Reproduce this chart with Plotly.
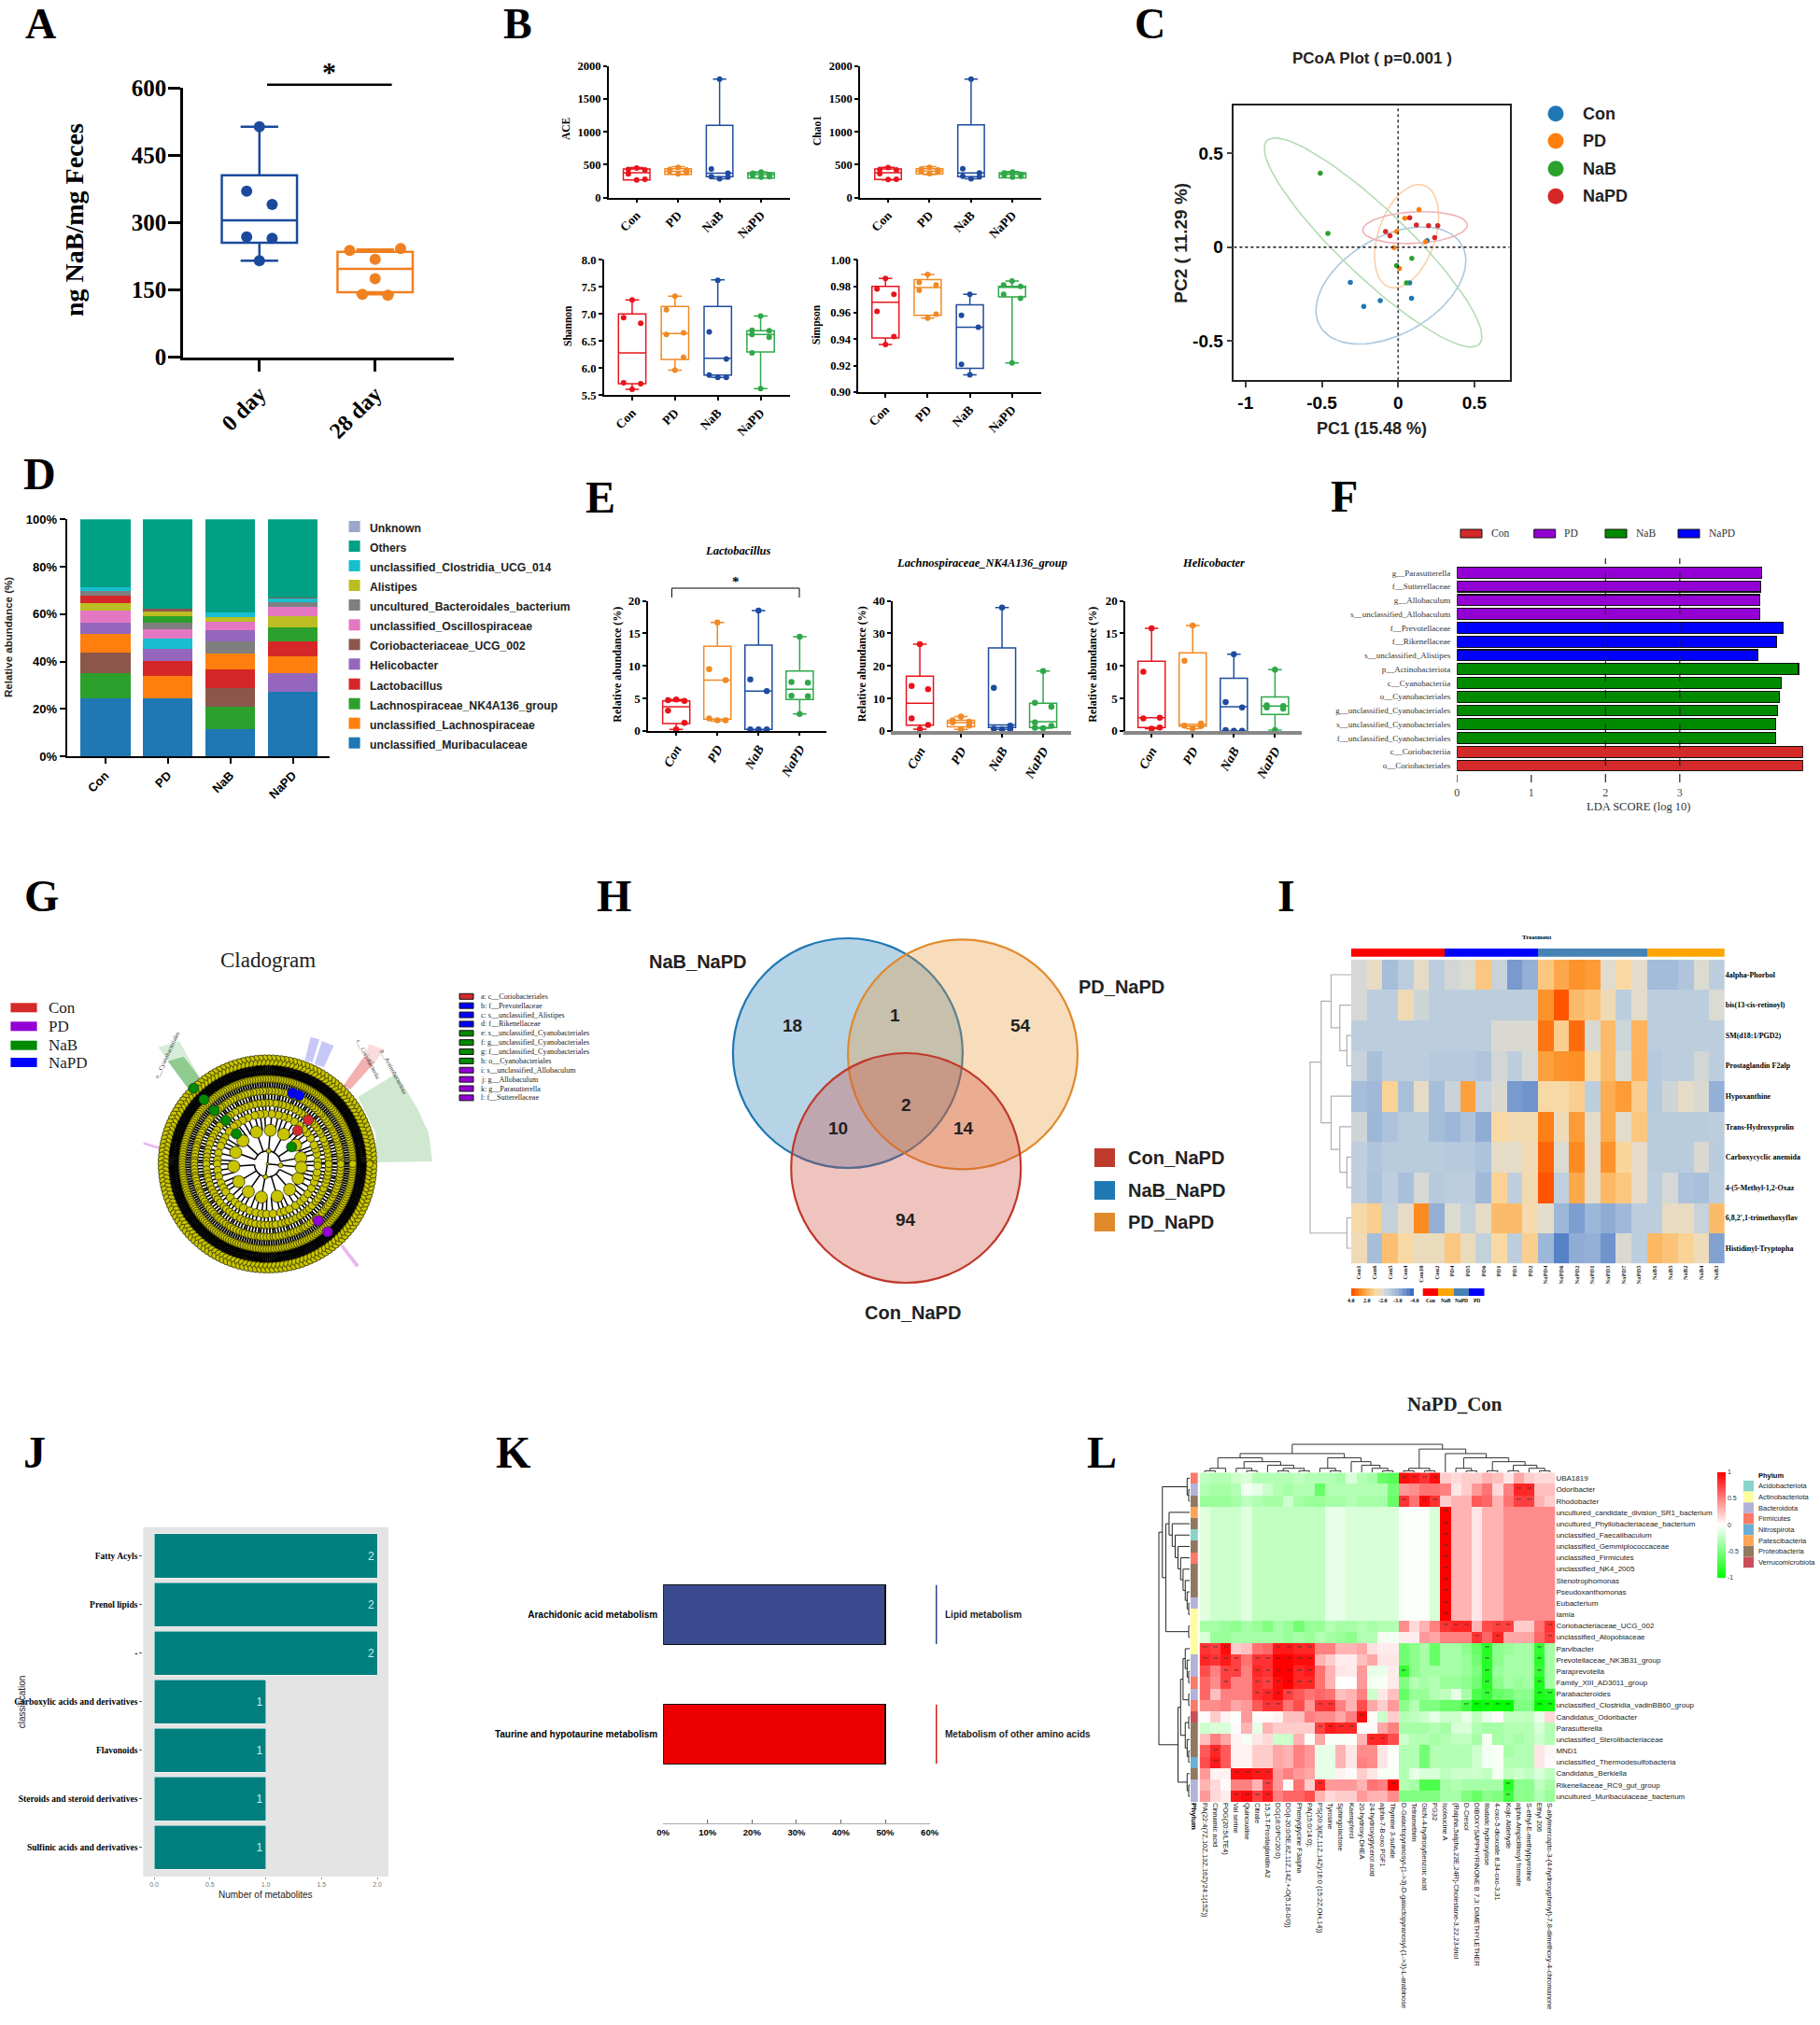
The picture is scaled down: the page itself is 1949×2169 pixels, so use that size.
import numpy as np
import plotly.graph_objects as go

W, H = 1949, 2169
BODY = 0
SERIF = "Liberation Serif"
SANS = "Liberation Sans"

# ---------------- data ----------------
A_cats = ["0 day", "28 day"]
A_boxes = [(215, 255, 305, 405, 513, [513, 370, 340, 268, 265, 215]),
           (140, 145, 197, 235, 240, [242, 238, 218, 175, 140, 138])]
A_jitter = [[0, -.11, .11, -.11, .11, 0], [.22, -.22, 0, 0, -.11, .11]]

GROUPS = ["Con", "PD", "NaB", "NaPD"]
B_ACE = [(270, 270, 378, 435, 455, [450, 430, 420, 360, 280, 270]),
         (350, 355, 400, 440, 470, [460, 430, 420, 400, 380, 360]),
         (285, 317, 370, 1100, 1800, [1800, 435, 370, 320, 310, 285]),
         (300, 298, 350, 378, 390, [390, 370, 350, 340, 320, 310])]
B_CHAO = [(270, 275, 380, 435, 460, [455, 430, 420, 365, 280, 275]),
          (350, 360, 405, 440, 470, [460, 435, 420, 400, 385, 365]),
          (285, 320, 375, 1105, 1800, [1800, 440, 375, 325, 315, 285]),
          (305, 300, 355, 380, 395, [390, 375, 355, 345, 325, 312])]
B_SHANNON = [(5.61, 5.71, 6.28, 7.0, 7.26, [7.26, 6.93, 6.83, 5.73, 5.71, 5.61]),
             (5.96, 6.16, 6.64, 7.14, 7.33, [7.33, 7.08, 6.65, 6.62, 6.2, 5.96]),
             (5.83, 5.87, 6.18, 7.14, 7.63, [7.62, 6.67, 6.17, 5.87, 5.83, 5.83]),
             (5.62, 6.3, 6.62, 6.69, 6.96, [6.96, 6.7, 6.69, 6.62, 6.57, 6.28, 5.62])]
B_SIMPSON = [(.936, .941, .968, .98, .986, [.986, .978, .974, .961, .942, .936]),
             (.956, .958, .979, .985, .989, [.989, .983, .981, .977, .959, .956]),
             (.913, .918, .949, .966, .974, [.974, .958, .949, .921, .913]),
             (.922, .972, .98, .98, .984, [.984, .981, .98, .974, .971, .922])]

C_names = ["Con", "PD", "NaB", "NaPD"]
C_colors = ["#1f77b4", "#ff7f0e", "#2ca02c", "#d62728"]
C_pale = ["#a9c8e0", "#fbcfa6", "#b4dcb4", "#f0b3b8"]
C_x = [[-.313, -.225, -.117, .088, .076, .19], [.137, .044, -.01, .18, -.026, .009],
       [-.51, -.46, .09, -.01, .055], [.076, .12, .2, .26, -.082, -.053, .24]]
C_y = [[-.187, -.315, -.285, -.272, -.19, .035], [.2, .154, .083, .028, -.003, -.113],
       [.393, .073, -.06, -.098, -.19], [.156, .118, .114, .114, .083, .061, .051]]
# ellipse: centre x, centre y, conjugate radius u (x,y), conjugate radius v (x,y)
C_ellipses = [(-.047, -.204, .395, .274, .292, -.148), (.056, .058, .096, .274, .187, -.022),
              (-.164, .025, .68, -.55, .215, .08), (.111, .104, .342, .017, .015, -.083)]

D_names = ["Unknown", "Others", "unclassified_Clostridia_UCG_014", "Alistipes",
           "uncultured_Bacteroidales_bacterium", "unclassified_Oscillospiraceae",
           "Coriobacteriaceae_UCG_002", "Helicobacter", "Lactobacillus",
           "Lachnospiraceae_NK4A136_group", "unclassified_Lachnospiraceae", "unclassified_Muribaculaceae"]
D_colors = ["#9aa7c7", "#00a085", "#17becf", "#bcbd22", "#7f7f7f", "#e377c2",
            "#8c564b", "#9467bd", "#d62728", "#2ca02c", "#ff7f0e", "#1f77b4"]
D_con_order = [11, 9, 6, 10, 7, 5, 3, 8, 4, 2, 1]
D_con_vals = [24.6, 10.5, 8.8, 7.7, 4.8, 5.2, 3.1, 3.2, 2.0, 1.5, 28.6]
D_pd_order = [11, 10, 8, 7, 2, 5, 4, 9, 3, 6, 1]
D_pd_vals = [24.6, 9.4, 6.3, 5.2, 4.3, 3.9, 2.7, 2.6, 2.0, 1.2, 37.8]
D_nab_order = [11, 9, 6, 8, 10, 4, 7, 5, 3, 2, 1]
D_nab_vals = [11.4, 9.5, 7.9, 7.7, 7.0, 4.9, 4.8, 3.4, 2.1, 1.9, 39.4]
D_napd_order = [11, 7, 10, 8, 9, 3, 5, 4, 2, 6, 1]
D_napd_vals = [27.3, 7.7, 7.3, 6.1, 6.0, 4.6, 4.2, 2.0, 1.6, 0.4, 32.8]

E_lacto = [(.2, 1.1, 3.7, 4.6, 4.8, [4.8, 4.7, 4.6, 3.1, 1.2, .2]),
           (1.5, 1.8, 7.8, 13, 16.7, [16.7, 9.5, 7.8, 1.9, 1.6, 1.6]),
           (.1, .2, 6.1, 13.2, 18.5, [18.5, 7.9, 6.1, .2, .2, .2]),
           (2.6, 4.8, 6.4, 9.2, 14.5, [14.5, 7.5, 7.4, 5.4, 5.3, 2.6])]
E_lachno = [(.5, 1.7, 8.5, 16.8, 26.7, [26.7, 13.8, 12.8, 3.8, 1.8, .5]),
            (.4, 1.2, 2.5, 3.2, 4.4, [4.4, 3.2, 2.8, 2.6, 1.6, .4]),
            (.4, 1, 1.8, 25.5, 38, [38, 13.2, 1.6, .6, .5, .4]),
            (.8, 1, 2.8, 8.5, 18.4, [18.4, 8.6, 7.4, 2.6, 1.5, .9, .8])]
E_helico = [(.3, .5, 2, 10.7, 15.8, [15.8, 9.1, 2, 1.9, .5, .3]),
            (.3, .7, 1, 12, 16.2, [16.2, 10.8, 1.1, .8, .7, .4]),
            (0, 0, 3.7, 8.1, 11.8, [11.8, 4.4, 3.6, .1, 0, 0]),
            (.1, 2.5, 3.8, 5.2, 9.4, [9.4, 3.9, 3.8, 3.6, 3.4, .1])]

F_labels = ["g__Parasutterella", "f__Sutterellaceae", "g__Allobaculum", "s__unclassified_Allobaculum",
            "f__Prevotellaceae", "f__Rikenellaceae", "s__unclassified_Alistipes", "p__Actinobacteriota",
            "c__Cyanobacteriia", "o__Cyanobacteriales", "g__unclassified_Cyanobacteriales",
            "s__unclassified_Cyanobacteriales", "f__unclassified_Cyanobacteriales",
            "c__Coriobacteriia", "o__Coriobacteriales"]
F_values = [4.10, 4.095, 4.08, 4.08, 4.39, 4.30, 4.05, 4.60, 4.37, 4.34, 4.32, 4.29, 4.29, 4.66, 4.66]
F_group = ["PD"] * 4 + ["NaPD"] * 3 + ["NaB"] * 6 + ["Con"] * 2
LEFSE = {"Con": "#d42a2a", "PD": "#9400d3", "NaB": "#008a00", "NaPD": "#0000ff"}

G_branching = [[1, 2, 1, 2], [1, 2, 1, 1, 2], [1, 2, 2, 1, 2], [2, 2, 1, 2], [3, 4, 4], [7, 7]]
G_leaves = 310
G_radii = [.97, .78, .67, .56, .46, .31, .12, 0]
G_sizes = [7.5, 8, 8, 8, 8.5, 13, 5, 3]
G_edge_widths = [2.4, 1.9, 1.8, 1.6, 1.5, 1.5, 1.5]
G_legend = ["a: c__Coriobacteriales", "b: f__Prevotellaceae", "c: s__unclassified_Alistipes",
            "d: f__Rikenellaceae", "e: s__unclassified_Cyanobacteriales", "f: g__unclassified_Cyanobacteriales",
            "g: f__unclassified_Cyanobacteriales", "h: o__Cyanobacteriales", "i: s__unclassified_Allobaculum",
            "j: g__Allobaculum", "k: g__Parasutterella", "l: f__Sutterellaceae"]
G_legend_group = ["Con"] + ["NaPD"] * 3 + ["NaB"] * 4 + ["PD"] * 4
G_nodes = {"NaB": ([-.676, -.582, -.488, -.383, -.286, .22], [.694, .591, .491, .4, .277, .157]),
           "NaPD": ([.23, .289], [.649, .629]),
           "Con": ([.373, .275], [.403, .306]),
           "PD": ([.463, .55], [-.52, -.623])}
G_patches = [("#cfe8cf", [1.509, 1.474, 1.369, 1.178, .829, .986, 1.003], [.023, .286, .514, .829, .614, .286, .014]),
             ("#d6ecd6", [-1.0, -.808, -.617, -.721], [1.071, 1.129, .786, .686]),
             ("#8fcb8f", [-.913, -.767, -.617, -.721], [.943, .986, .786, .686]),
             ("#c8c8f8", [.341, .394, .474, .411], [.949, 1.166, 1.143, .931]),
             ("#c8c8f8", [.429, .498, .606, .516], [.914, 1.129, 1.086, .886]),
             ("#f3b0b0", [.69, .882, .986, .76], [.714, .986, .937, .686]),
             ("#fadcdc", [.882, .93, 1.07, .986], [.986, 1.1, 1.05, .937]),
             ("#e8b8f0", [-1.14, -1.13, -.81, -.82], [.18, .2, .1, .08]),
             ("#e8b8f0", [.67, .69, .84, .81], [-.76, -.74, -.93, -.95])]

H_sets = ["NaB_NaPD", "PD_NaPD", "Con_NaPD"]
H_counts = [18, 1, 54, 2, 10, 14, 94]

I_rows = ["4alpha-Phorbol", "bis(13-cis-retinoyl)", "SM(d18:1/PGD2)", "Prostaglandin F2alp", "Hypoxanthine",
          "Trans-Hydroxyprolin", "Carboxycyclic anemida", "4-(5-Methyl-1,2-Oxaz", "6,8,2',1-trimethoxyflav",
          "Histidinyl-Tryptopha"]
I_cols = ["Con1", "Con6", "Con5", "Con4", "Con10", "Con2", "PD4", "PD5", "PD6", "PD1", "PD3", "PD2",
          "NaPD4", "NaPD6", "NaPD2", "NaPD1", "NaPD3", "NaPD7", "NaPD5", "NaB1", "NaB5", "NaB2", "NaB4", "NaB3"]
I_groups = [0] * 6 + [1] * 6 + [2] * 7 + [3] * 5
I_z = [
 [-.3, .3, -1.7, -1, .2, -1, -.4, -.1, 1.5, -.7, -2.8, -2.2, 1.5, 2.3, 2.8, 2.6, 0, 1, .1, -1.8, -1.8, -1.4, -.1, -1],
 [-.3, -1, -1, .6, -.5, -1, -1, -1, -1, -1, -1, -1, 2.8, 4, 1.8, 1.6, .6, -1, .1, -1, -1, -1, -1, -.1],
 [-1, -1, -1, -1, -1, -1, -1, -1, -1, -.2, -.2, -.2, 3.4, 1.3, 3.6, -.2, 1.8, -.5, 2, -1, -1, -1, -1, -1],
 [-.7, -1.6, -1, -1, -1, -1.2, -1.2, -1.2, -1.4, -.4, -1, -.3, 2.5, 2.8, 2.9, .9, 1.8, -.1, 2, -1.2, -1, -1, -.4, -1],
 [-1.7, -1.9, 1.2, -1.6, .2, -1.7, -.6, 2.5, -.7, -.2, -2.8, -3, .9, .9, 1.3, -1, 2.2, 2.6, 1.3, -1.2, -.5, .2, -.2, -2.2],
 [-.5, -2, -1.5, -1.1, -1.1, -1.7, -2, -1.5, -2.3, 1, .7, .7, 3.2, .5, 2.6, .1, 2.2, .1, 1.5, -1.1, -1.1, -1.1, -1.1, -1],
 [-.9, -1.4, -1.1, -1.1, -1.1, -1.1, -1.2, -1.2, -1.5, .2, .1, .6, 3.7, -.1, 3, .2, 2.8, 1.1, .2, -1.1, -1.1, -1.1, -.2, -1.1],
 [-.9, -1.5, -.9, -1.6, -.3, -1.2, -1, -1, -1.9, 1.2, -.9, .7, 4, -.9, 2.3, .2, 1.9, 1.5, .2, -1, -.3, -1.5, -1.6, -1],
 [.9, 1.3, -.8, .2, 3, -2.2, -.1, -.8, .2, 1.8, 1.8, .8, .1, -2, -2.7, -2, -2.3, -1.9, -1, -1, .3, .3, -.7, 1.8],
 [.6, -1.7, 1.7, 1, .4, .4, 1.5, .4, -.8, 1, -1, 1.3, -2, -3.5, -2.3, -2.2, -3, -.2, -1, 1.9, 1.6, 1.2, .5, -2.6],
]
I_legend_vals = [4, 3.5, 3, 2.5, 2, 1.5, 1, .5, 0, -.5, -1, -1.5, -2, -2.5, -3, -3.5, -4]
I_tree = (((0, (1, (2, 3))), (4, (5, (6, 7)))), (8, 9))

J_labels = ["Fatty Acyls", "Prenol lipids", "-", "Carboxylic acids and derivatives", "Flavonoids",
            "Steroids and steroid derivatives", "Sulfinic acids and derivatives"]
J_values = [2, 2, 2, 1, 1, 1, 1]

K_labels = ["Arachidonic acid metabolism", "Taurine and hypotaurine metabolism"]
K_values = [50, 50]
K_classes = ["Lipid metabolism", "Metabolism of other amino acids"]

L_rows = ["UBA1819", "Odoribacter", "Rhodobacter", "uncultured_candidate_division_SR1_bacterium",
          "uncultured_Phyllobacteriaceae_bacterium", "unclassified_Faecalibaculum", "unclassified_Gemmiplococcaceae",
          "unclassified_Firmicutes", "unclassified_NK4_2005", "Stenotrophomonas", "Pseudoxanthomonas", "Eubacterium",
          "Iamia", "Coriobacteriaceae_UCG_002", "unclassified_Atopobiaceae", "Parvibacter",
          "Prevotellaceae_NK3B31_group", "Paraprevotella", "Family_XIII_AD3011_group", "Parabacteroides",
          "unclassified_Clostridia_vadinBB60_group", "Candidatus_Odoribacter", "Parasutterella",
          "unclassified_Sterolibacteriaceae", "MND1", "unclassified_Thermodesulfobacteria", "Candidatus_Berkiella",
          "Rikenellaceae_RC9_gut_group", "uncultured_Muribaculaceae_bacterium"]
L_cols = ["PA(22:4(7Z,10Z,13Z,16Z)/24:1(15Z))", "Cinnamic acid", "POG(20:5/LTE4)", "Val serine", "Quinoxaline",
          "Citrate", "15,3-T-Prostaglandin A2", "DG(18:0/PC/20:0)", "DG(i-20:0/5E,8Z,11Z,14Z,+-O(5,18-0/0))",
          "Phenylglycine F3alpha", "PA(15:0/14:0);", "PS(20:3(8Z,11Z,14Z)/16:0 (15:2Z,OH,14))", "Tyrosine",
          "Sphingolactone", "Kaempferol", "20-hydroxy-DHEA", "24-hydroxyglycerol acid", "alpha-7-B-oxo PGF1",
          "Thymine 3-sulfate", "D-Galactopyranosyl-(1->3)-D-galactopyranosyl-(1->3)-L-arabinose", "Tetramethrin",
          "GlcN-4-hydroxybenzoic acid", "PG32", "Isoleucine A", "(Ralpha,5alpha,22E,24R)-Cholestane-3,22,23-triol",
          "D-Cresol", "DIBOXYSAPPHYRINONE B 7,3: DIMETHYLETHER", "Illudalic hydroxylase",
          "4-oxo-5-dioxoate 8,34-oxo-3,31", "Kojic Aldehyde", "alpha-Ampicillinoyl formate",
          "S-ethyl-E-methylpyrroline", "Ethyl 206",
          "S-allylmercapto-3-(4-hydroxyphenyl)-7,8-dimethoxy-4-chromanone"]
L_flat = [-.12, -.2, -.2, -.2, -.12, -.25, -.25, -.25, -.25, -.25, -.25, -.25, -.1, -.1, -.15, -.15, -.15, -.15, -.15,
          -.02, -.02, -.02, -.15, 1, .3, .3, .1, .3, .3, .45, .45, .45, .45, .45]
L_z = [
 [-.25, -.3, -.3, -.2, -.15, -.3, -.3, -.3, -.3, -.25, -.3, -.3, -.3, -.35, -.15, -.3, -.35, -.6, -.65,
  .95, .9, .8, .95, .2, .15, .2, .2, .3, .25, .1, .35, .2, .15, .15],
 [-.3, -.35, -.35, -.3, -.05, -.1, -.2, -.3, -.35, -.3, -.3, -.6, -.3, -.3, -.3, -.3, -.3, -.3, -.55,
  .4, .45, .55, .55, .5, .1, .2, .4, .55, .15, .5, .85, .85, .25, .25],
 [-.4, -.4, -.4, -.35, -.25, -.3, -.35, -.35, -.2, -.35, -.4, -.4, -.35, -.35, -.3, -.35, -.35, -.35, -.6,
  .8, .55, .95, .8, .2, .3, .3, .65, .6, .3, .55, .75, .75, .3, .2],
 L_flat, L_flat, L_flat, L_flat, L_flat, L_flat, L_flat, L_flat, L_flat, L_flat,
 [-.35, -.35, -.4, -.45, -.35, -.4, -.5, -.35, -.4, -.55, -.4, -.4, -.3, -.35, -.35, -.3, -.35, -.3, -.3,
  .45, .15, .3, .5, .8, .85, .85, .3, .7, .75, .75, .2, .2, .55, .8],
 [-.15, -.4, -.4, -.35, -.35, -.35, -.35, -.35, -.4, -.35, -.4, -.3, -.35, -.4, -.45, -.3, -.3, -.05, -.05,
  .07, .07, .4, .35, .5, .5, .5, .8, .6, .85, .35, .35, .35, .6, .75],
 [.8, .75, .95, .2, .25, .55, .6, .9, .9, .85, .85, .5, .5, .3, .3, .35, .12, .08, .08,
  -.55, -.45, -.35, -.6, -.35, -.35, -.45, -.6, -.85, -.45, -.4, -.35, -.35, -.8, -.35],
 [.85, .8, .9, .75, .55, .8, .8, 1, 1, .95, .95, .3, .2, .08, .08, .25, .35, .1, .1,
  -.55, -.45, -.35, -.6, -.35, -.35, -.4, -.55, -.85, -.45, -.35, -.35, -.35, -.85, -.35],
 [.7, .5, .75, .75, .5, .85, .8, 1, 1, .85, .9, .55, .3, .1, .08, .4, -.1, -.08, .08,
  -.8, -.45, -.35, -.35, -.35, -.35, -.4, -.5, -.85, -.4, -.35, -.35, -.35, -.8, -.35],
 [.6, .45, .75, .5, .5, .8, .75, .95, 1, .85, .85, .55, .3, 0, 0, .4, -.05, -.03, .08,
  -.5, -.3, -.35, -.3, -.4, -.4, -.45, -.55, -.85, -.45, -.35, -.4, -.35, -.9, -.35],
 [.6, .25, .5, .5, .5, .8, .85, .95, .75, .65, .55, .6, .55, .25, .3, .5, -.2, .1, .25,
  -.6, -.4, -.4, -.3, -.25, -.1, -.35, -.7, -.8, -.6, -.55, -.45, -.45, -.9, -.85],
 [.45, .45, .5, .35, .4, .65, .8, .8, .55, .7, .4, .8, .8, .5, .3, .7, .35, .2, .4,
  -.45, -.3, -.5, -.5, -.6, -.6, -.75, -1, -.95, -1, -1, -.5, -.5, -1, -.95],
 [.02, .2, .05, -.02, .4, .02, .02, .05, .25, .25, .5, .45, .45, .35, .5, .95, .02, -.2, .2,
  -.3, -.25, -.2, -.1, -.2, -.2, -.1, -.25, -.1, .02, -.25, -.25, -.25, -.1, .15],
 [-.2, -.15, -.15, .02, .3, -.1, .3, .2, .2, .2, .2, .75, .9, .85, .85, .02, .02, .35, .5,
  -.35, -.35, -.35, -.3, -.35, -.15, -.15, -.3, -.35, -.35, -.3, -.3, -.3, -.15, -.3],
 [.25, .5, .35, .05, -.05, .1, .15, -.2, -.2, .3, -.02, .35, -.02, -.03, -.02, .3, .85, .85, .7,
  -.2, -.3, -.3, -.35, -.3, -.25, -.25, -.35, -.05, -.35, -.3, -.35, -.3, -.2, -.3],
 [.65, .85, .65, .05, .05, .2, .2, .35, .3, .5, .4, -.1, -.1, .3, .1, .45, .45, .1, -.02,
  -.3, -.3, -.55, -.3, -.3, -.3, -.3, -.2, -.05, -.03, -.35, -.3, -.3, .1, .03],
 [.7, .9, .65, .05, .05, .2, .2, .35, .3, .5, .4, -.1, -.1, .3, .1, .5, .45, .1, -.02,
  -.3, -.3, -.55, -.3, -.3, -.3, -.3, -.2, -.05, -.03, -.3, -.3, -.3, .1, .02],
 [.4, .05, .05, .95, .95, .9, .9, .4, .5, .4, .35, -.1, -.1, .05, .02, .2, .1, -.03, -.03,
  -.3, -.1, -.15, -.15, -.25, -.2, -.2, -.2, -.25, -.05, -.25, -.2, -.25, -.15, -.25],
 [.3, .15, .02, .5, .5, .3, .75, .4, .02, .55, .2, .85, .4, .4, .4, .3, .55, .5, 1,
  -.3, -.35, -.7, -.7, -.35, -.3, -.35, -.35, -.35, -.35, -.85, -.45, -.45, -.25, -.35],
 [.4, .15, .08, .9, .95, .75, .9, .5, .6, .6, .7, .3, .15, .2, .2, .4, .3, .3, .45,
  -.5, -.5, -.5, -.5, -.35, -.35, -.5, -.6, -.45, -.5, -.75, -.45, -.45, -.3, -.4],
]
L_phyla = ["Acidobacteriota", "Actinobacteriota", "Bacteroidota", "Firmicutes", "Nitrospirota",
           "Patescibacteria", "Proteobacteria", "Verrucomicrobiota"]
L_phyla_colors = ["#88d4c8", "#fdfd9e", "#b3b3d9", "#fc7a68", "#6baed6", "#fda555", "#8f7a5f", "#c9505a"]
L_phylum_codes = [3, 2, 6, 5, 6, 0, 6, 3, 6, 6, 6, 2, 1, 1, 1, 1, 2, 2, 3, 2, 3, 7, 6, 6, 6, 4, 6, 2, 2]
L_row_tree = ((((0, (1, 2)), ((3, (4, (5, (6, (7, (8, (9, (10, (11, 12))))))))), (13, 14))),
               ((((15, (16, (17, 18))), (19, 20)), ((21, 22), (23, (24, 25)))), (26, (27, 28)))))
L_col_tree = (((((0, 1), 2), ((3, (4, 5)), (6, ((7, 8), (9, 10))))), ((11, (12, 13)), (14, (15, (16, (17, 18)))))),
              (((19, 20), (21, 22)), (23, ((24, (25, 26)), ((27, 28), ((29, 30), (31, (32, 33))))))))

# ---------------- helpers ----------------
fig = go.Figure()
layout = {}
shapes = []
annos = []
_n = [1]


def PX(x):
    return (x - BODY) / (W - 2 * BODY)


def PY(y):
    return 1 - (y - BODY) / (H - 2 * BODY)


def axes(x0, x1, y0, y1, xcfg, ycfg):
    _n[0] += 1
    n = _n[0]
    layout[f"xaxis{n}"] = dict(domain=[PX(x0), PX(x1)], anchor=f"y{n}", showgrid=False, zeroline=False, **xcfg)
    layout[f"yaxis{n}"] = dict(domain=[PY(y1), PY(y0)], anchor=f"x{n}", showgrid=False, zeroline=False, **ycfg)
    return f"x{n}", f"y{n}"


def T(x, y, s, size, family=SERIF, bold=False, italic=False, color="#000000", angle=0, anchor="center"):
    f = dict(family=family, size=size, color=color)
    if bold:
        f["weight"] = 700
    if italic:
        f["style"] = "italic"
    annos.append(dict(x=PX(x), y=PY(y), xref="paper", yref="paper", text=s, showarrow=False, font=f,
                      textangle=angle, xanchor=anchor, yanchor="middle"))


def rect(x0, y0, x1, y1, fill, line=None, lw=0, layer="above"):
    shapes.append(dict(type="rect", xref="paper", yref="paper", x0=PX(x0), x1=PX(x1), y0=PY(y0), y1=PY(y1),
                       fillcolor=fill, line=dict(color=line or fill, width=lw), layer=layer))


def seg(x0, y0, x1, y1, color="#000000", lw=1.5):
    shapes.append(dict(type="line", xref="paper", yref="paper", x0=PX(x0), x1=PX(x1), y0=PY(y0), y1=PY(y1),
                       line=dict(color=color, width=lw), layer="above"))


def circ(cx, cy, r, fill, line=None, lw=0):
    shapes.append(dict(type="circle", xref="paper", yref="paper", x0=PX(cx - r), x1=PX(cx + r), y0=PY(cy - r), y1=PY(cy + r),
                       fillcolor=fill, line=dict(color=line or fill, width=lw), layer="above"))


def tfont(size, family=SERIF, bold=True, color="#000000", italic=False):
    f = dict(family=family, size=size, color=color)
    if bold:
        f["weight"] = 700
    if italic:
        f["style"] = "italic"
    return f


def gp_x(rng, labels, size, angle=-45, lw=2, family=SERIF, ticklen=7, color="#000000", italic=False, bold=True):
    return dict(range=rng, tickmode="array", tickvals=list(range(len(labels))), ticktext=labels, tickangle=angle,
                tickfont=tfont(size, family, bold, italic=italic), showline=True, linecolor=color, linewidth=lw,
                ticks="outside", ticklen=ticklen, tickwidth=lw if lw < 3 else 1.5, tickcolor="#000000")


def gp_y(rng, vals, labels, size, lw=2, family=SERIF, ticklen=7):
    return dict(range=rng, tickmode="array", tickvals=vals, ticktext=labels, tickfont=tfont(size, family),
                showline=True, linecolor="#000000", linewidth=lw, ticks="outside", ticklen=ticklen, tickwidth=lw,
                tickcolor="#000000")


def boxes(xa, ya, data, colors, bw, ms, lw, off, jitter=None):
    for i, (g, c) in enumerate(zip(data, colors)):
        lo, q1, med, q3, hi, pts = g
        fig.add_trace(go.Box(x=[i], lowerfence=[lo], q1=[q1], median=[med], q3=[q3], upperfence=[hi], width=bw,
                             whiskerwidth=.5, line=dict(color=c, width=lw), fillcolor="rgba(0,0,0,0)",
                             boxpoints=False, xaxis=xa, yaxis=ya))
        n = len(pts)
        if jitter:
            offs = jitter[i]
        else:
            offs = [0 if k in (0, n - 1) else (-off if k % 2 else off) for k in range(n)]
        fig.add_trace(go.Scatter(x=[i + o for o in offs], y=pts, mode="markers", cliponaxis=False,
                                 marker=dict(color=c, size=ms), xaxis=xa, yaxis=ya))


def tree_lines(tree, pos_fn, base, total, horizontal, sign=-1, power=1.4):
    rec = []

    def walk(node):
        if isinstance(node, int):
            return pos_fn(node), 0
        kids = [walk(c) for c in node]
        h = 1 + max(k[1] for k in kids)
        p = (kids[0][0] + kids[-1][0]) / 2
        rec.append((kids, h))
        return p, h

    _, hmax = walk(tree)
    xs, ys = [], []

    def hh(h):
        return base + sign * total * (h / hmax) ** power

    for kids, h in rec:
        path = [(kids[0][0], hh(kids[0][1])), (kids[0][0], hh(h)), (kids[-1][0], hh(h)), (kids[-1][0], hh(kids[-1][1]))]
        for p, v in path:
            if horizontal:
                xs.append(v)
                ys.append(p)
            else:
                xs.append(p)
                ys.append(v)
        xs.append(None)
        ys.append(None)
    return xs, ys


def stepscale(colors):
    n = len(colors)
    out = []
    for i, c in enumerate(colors):
        out += [[i / n, c], [(i + 1) / n, c]]
    return out


# full page coordinate layer, used for dendrograms
page_x, page_y = axes(BODY, W - BODY, BODY, H - BODY, dict(range=[BODY, W - BODY], visible=False),
                      dict(range=[H - BODY, BODY], visible=False))

# ---------------- panel letters ----------------
for s, x, y, sz in [("A", 43, 26, 46), ("B", 554, 26, 46), ("C", 1231, 26, 46), ("D", 42, 507, 48), ("E", 643, 532, 48),
                    ("F", 1439, 531, 48), ("G", 44, 959, 48), ("H", 657, 959, 48), ("I", 1377, 959, 48),
                    ("J", 37, 1555, 48), ("K", 549, 1555, 48), ("L", 1180, 1555, 48)]:
    T(x, y, s, sz, bold=True)

# ---------------- A ----------------
ax_y = gp_y([0, 600], [0, 150, 300, 450, 600], ["0", "150", "300", "450", "600"], 25, lw=2.5, ticklen=13)
ax_y["ticklabelstandoff"] = -3
xa, ya = axes(196, 486, 94, 382.7, gp_x([-.66, 1.68], A_cats, 24, lw=2.5, ticklen=13), ax_y)
boxes(xa, ya, A_boxes, ["#1b4a9c", "#f08020"], .65, 12, 2.5, .11, A_jitter)
seg(286, 90.7, 419.6, 90.7, lw=2.5)
T(352.5, 77, "*", 30, bold=True)
T(79, 236, "ng NaB/mg Feces", 28, bold=True, angle=-90)

# ---------------- B ----------------
BC = ["#e8141c", "#f08a24", "#1f4b9f", "#2fa84a"]
vals_ace = [0, 500, 1000, 1500, 2000]
txt_ace = [str(v) for v in vals_ace]
xa, ya = axes(651.7, 845.7, 70.7, 211.7, gp_x([-.676, 3.69], GROUPS, 13.5, lw=1.5, ticklen=4),
              gp_y([0, 2000], vals_ace, txt_ace, 12.5, lw=1.5, ticklen=4))
boxes(xa, ya, B_ACE, BC, .64, 6, 1.5, .2)
T(606, 138, "ACE", 11.5, bold=True, angle=-90)
xa, ya = axes(921, 1115, 70.7, 211.7, gp_x([-.676, 3.69], GROUPS, 13.5, lw=1.5, ticklen=4),
              gp_y([0, 2000], vals_ace, txt_ace, 12.5, lw=1.5, ticklen=4))
boxes(xa, ya, B_CHAO, BC, .64, 6, 1.5, .2)
T(875, 140, "Chao1", 11.5, bold=True, angle=-90)
vals_sh = [5.5, 6, 6.5, 7, 7.5, 8]
xa, ya = axes(646.7, 845.7, 278.3, 423.3, gp_x([-.66, 3.68], GROUPS, 13.5, lw=1.5, ticklen=4),
              gp_y([5.5, 8], vals_sh, [f"{v:.1f}" for v in vals_sh], 12.5, lw=1.5, ticklen=4))
boxes(xa, ya, B_SHANNON, BC, .64, 6, 1.5, .2)
T(608, 349, "Shannon", 11.5, bold=True, angle=-90)
vals_si = [.90, .92, .94, .96, .98, 1.0]
xa, ya = axes(919.3, 1115, 278.3, 420, gp_x([-.64, 3.69], GROUPS, 13.5, lw=1.5, ticklen=4),
              gp_y([.9, 1], vals_si, [f"{v:.2f}" for v in vals_si], 12.5, lw=1.5, ticklen=4))
boxes(xa, ya, B_SIMPSON, BC, .64, 6, 1.5, .2)
T(875, 348, "Simpson", 11.5, bold=True, angle=-90)

# ---------------- C ----------------
xa, ya = axes(1321.4, 1616.6, 112.7, 407.3,
              dict(range=[-1.076, .731], tickmode="array", tickvals=[-1, -.5, 0, .5], ticktext=["-1", "-0.5", "0", "0.5"],
                   tickfont=tfont(19, SANS), showline=True, mirror=True, linecolor="#222222", linewidth=1.5, ticks="outside",
                   ticklen=6, tickwidth=1.5),
              dict(range=[-.708, .755], tickmode="array", tickvals=[-.5, 0, .5], ticktext=["-0.5", "0", "0.5"],
                   tickfont=tfont(19, SANS), showline=True, mirror=True, linecolor="#222222", linewidth=1.5, ticks="outside",
                   ticklen=6, tickwidth=1.5))
for ref, kw in [("h", dict(x0=-1.076, x1=.731, y0=0, y1=0)), ("v", dict(x0=0, x1=0, y0=-.708, y1=.755))]:
    shapes.append(dict(type="line", xref=xa, yref=ya, line=dict(color="#111111", width=1.3, dash="dot"), layer="above", **kw))
t = np.linspace(0, 2 * np.pi, 90)
for (cx, cy, ux, uy, vx, vy), pale in zip(C_ellipses, C_pale):
    fig.add_trace(go.Scatter(x=cx + ux * np.cos(t) + vx * np.sin(t), y=cy + uy * np.cos(t) + vy * np.sin(t), mode="lines",
                             line=dict(color=pale, width=1.6), xaxis=xa, yaxis=ya))
for cx_, cy_, c in zip(C_x, C_y, C_colors):
    fig.add_trace(go.Scatter(x=cx_, y=cy_, mode="markers", marker=dict(color=c, size=5.5), xaxis=xa, yaxis=ya))
T(1469, 62.7, "PCoA Plot ( p=0.001 )", 17, SANS, True, color="#222222")
T(1469, 459, "PC1 (15.48 %)", 18, SANS, True, color="#222222")
T(1265, 260.7, "PC2 ( 11.29 %)", 19, SANS, True, color="#222222", angle=-90)
for nm, c, y in zip(C_names, C_colors, [121.7, 151, 180.7, 210.3]):
    circ(1666, y, 8.5, c)
    T(1693, y, nm, 18, SANS, True, anchor="left", color="#222222")

# ---------------- D ----------------
xa, ya = axes(71.7, 353, 556.3, 810,
              gp_x([-.614, 3.59], GROUPS, 13, family=SANS, ticklen=6),
              gp_y([0, 100], [0, 20, 40, 60, 80, 100], ["0%", "20%", "40%", "60%", "80%", "100%"], 13, family=SANS, ticklen=6))
for i, (order, vals) in enumerate([(D_con_order, D_con_vals), (D_pd_order, D_pd_vals),
                                   (D_nab_order, D_nab_vals), (D_napd_order, D_napd_vals)]):
    for o, v in zip(order, vals):
        fig.add_trace(go.Bar(x=[i], y=[v], width=.8, marker=dict(color=D_colors[o], line_width=0), xaxis=xa, yaxis=ya))
for nm, c, y in zip(D_names, D_colors, [564, 585, 606, 627, 648, 669.3, 690.3, 711.3, 732.7, 753.7, 774.7, 795.7]):
    rect(373.5, y - 6, 385.6, y + 6, c)
    T(394.3, y + 2, nm, 12.2, SANS, True, anchor="left", color="#222222")
T(9, 683, "Relative abundance (%)", 11.5, SANS, True, angle=-90, color="#222222")

# ---------------- E ----------------
for x0, x1, rng, ytop, data, title, tx, ty, ylx, base_color, baselw in [
    (694.2, 885, [-.68, 3.65], 20, E_lacto, "Lactobacillus", 790, 590, 661, "#000000", 1.5),
    (956, 1147, [-.66, 3.68], 40, E_lachno, "Lachnospiraceae_NK4A136_group", 1051, 602.7, 922.5, "#888888", 3.5),
    (1205, 1394, [-.64, 3.65], 20, E_helico, "Helicobacter", 1299, 602.7, 1170, "#888888", 3.5)]:
    vals = [ytop * k / 4 for k in range(5)]
    xa, ya = axes(x0, x1, 643.7, 782.7, gp_x(rng, GROUPS, 14, angle=-60, lw=baselw, ticklen=4, color=base_color, italic=True),
                  gp_y([0, ytop], vals, [f"{v:g}" for v in vals], 13, lw=1.5, ticklen=4))
    boxes(xa, ya, data, BC, .66, 6.5, 1.5, .2)
    T(tx, ty, title, 12.5, bold=True, italic=True)
    T(ylx, 711.7, "Relative abundance (%)", 12, bold=True, angle=-90)
seg(719.4, 640, 719.4, 630, lw=1)
seg(719.4, 630, 856, 630, lw=1)
seg(856, 630, 856, 640, lw=1)
T(787.7, 623, "*", 15, bold=True)

# ---------------- F ----------------
xa, ya = axes(1560.3, 1930.8, 598.3, 831.7,
              dict(range=[0, 4.66], tickmode="array", tickvals=[0, 1, 2, 3], ticktext=["0", "1", "2", "3"],
                   tickfont=dict(family=SERIF, size=12, color="#444444"), ticks="outside", ticklen=6, tickcolor="#ffffff"),
              dict(type="category", categoryorder="array", categoryarray=F_labels, range=[14.79, -1.02],
                   tickfont=dict(family=SERIF, size=9, color="#333333"), ticks="", ticklabelstandoff=6))
fig.add_trace(go.Bar(x=F_values, y=F_labels, orientation="h", width=.8,
                     marker=dict(color=[LEFSE[g] for g in F_group], line=dict(color="#111111", width=1.1)), xaxis=xa, yaxis=ya))
for v in [0, 1, 2, 3]:
    shapes.append(dict(type="line", xref=xa, yref="paper", x0=v, x1=v, y0=PY(838), y1=PY(598 if v >= 2 else 830),
                       line=dict(color="#222222", width=1.2, dash="dash"), layer="above"))
for nm, x0, tx in [("Con", 1564, 1595), ("PD", 1642.7, 1673), ("NaB", 1719, 1750), ("NaPD", 1797, 1828)]:
    rect(x0, 567, x0 + 23, 576, LEFSE[nm], "#111111", 1)
    T(tx, 571.5, nm, 11.5, color="#333333", anchor="left")
T(1754, 864.3, "LDA SCORE (log 10)", 12.5, color="#333333")

# ---------------- G ----------------
xa, ya = axes(286.5 - 187.2, 286.5 + 187.2, 1246.7 - 151.7, 1246.7 + 151.7,
              dict(range=[-1.6, 1.6], visible=False), dict(range=[-1.3, 1.3], visible=False))
for col, px_, py_ in G_patches:
    fig.add_trace(go.Scatter(x=px_, y=py_, mode="lines", fill="toself", fillcolor=col, line=dict(width=0, color=col),
                             xaxis=xa, yaxis=ya))
angles = [np.linspace(.02, 2 * np.pi + .02, G_leaves, endpoint=False)]
links = []
for pat in G_branching:
    cur = angles[-1]
    parents, i, k, link = [], 0, 0, []
    while i < len(cur):
        m = pat[k % len(pat)]
        grp = cur[i:i + m]
        link.append((len(parents), grp))
        parents.append(grp.mean())
        i += m
        k += 1
    angles.append(np.array(parents))
    links.append(link)
angles.append(np.array([0.]))
links.append([(0, angles[-2])])
for lev, link in enumerate(links):
    ex, ey = [], []
    r_child, r_par = G_radii[lev], G_radii[lev + 1]
    for pi_, grp in link:
        if r_par > 0 and len(grp) > 1:
            a = np.linspace(grp.min(), grp.max(), 12)
            ex += list(r_par * np.cos(a)) + [None]
            ey += list(r_par * np.sin(a)) + [None]
        for a in grp:
            ex += [r_child * np.cos(a), r_par * np.cos(a), None]
            ey += [r_child * np.sin(a), r_par * np.sin(a), None]
    fig.add_trace(go.Scatter(x=ex, y=ey, mode="lines", line=dict(color="#000000", width=G_edge_widths[lev]),
                             xaxis=xa, yaxis=ya))
for lev, (r, s) in enumerate(zip(G_radii, G_sizes)):
    a = angles[lev]
    rr = r - .035 * (np.arange(len(a)) % 2) if lev == 0 else np.full(len(a), r)
    fig.add_trace(go.Scatter(x=rr * np.cos(a), y=rr * np.sin(a), mode="markers",
                             marker=dict(color="#c8c400", size=s, line=dict(color="#1a1a00", width=.7)), xaxis=xa, yaxis=ya))
for g, (nx, ny) in G_nodes.items():
    fig.add_trace(go.Scatter(x=nx, y=ny, mode="markers", marker=dict(color=LEFSE[g], size=11, line=dict(color="#222222", width=.6)),
                             xaxis=xa, yaxis=ya))
T(286.5, 1028.3, "Cladogram", 23, color="#222222")
for nm, y in zip(["Con", "PD", "NaB", "NaPD"], [1079.3, 1099.3, 1119.7, 1138]):
    rect(11.4, y - 5, 39.6, y + 5, LEFSE[nm])
    T(50, y, nm, 17, color="#222222", anchor="left")
for i, (s, g) in enumerate(zip(G_legend, G_legend_group)):
    y = 1067.3 + i * 9.87
    rect(492, y - 3, 507, y + 3, LEFSE[g], "#111111", 1)
    T(513, y, s, 8, color="#222222", anchor="left")
T(178, 1130, "o__Cyanobacteriales", 6.5, angle=-65, color="#333333")
T(422, 1147, "p__Actinobacteriota", 6.5, angle=62, color="#333333")
T(395, 1134, "c__Coriobacteriia", 6.5, angle=62, color="#333333")

# ---------------- H ----------------
H_centers = [(907.9, 1128), (1031, 1129.3), (970.2, 1251)]
H_fills = ["rgba(31,120,180,.32)", "rgba(232,150,50,.32)", "rgba(205,70,55,.32)"]
H_lines = ["#1f78b4", "#e08a2c", "#c0392b"]
for (cx, cy), fc, lc in zip(H_centers, H_fills, H_lines):
    circ(cx, cy, 123, fc, lc, 2.2)
for v, (x, y) in zip(H_counts, [(848, 1098), (958, 1087), (1093, 1098), (970, 1183), (897, 1208), (1032, 1208), (970, 1306)]):
    T(x, y, str(v), 19, SANS, True, color="#222222")
T(747, 1030, H_sets[0], 20, SANS, True, color="#222222")
T(1201, 1057, H_sets[1], 20, SANS, True, color="#222222")
T(977, 1406, H_sets[2], 20, SANS, True, color="#222222")
for nm, c, y in zip([H_sets[2], H_sets[0], H_sets[1]], ["#bf3b2e", "#1f78b4", "#e08a2c"], [1240, 1275, 1309]):
    rect(1172, y - 10, 1194, y + 10, c)
    T(1206, y, nm, 20, SANS, True, anchor="left", color="#222222")

# ---------------- I ----------------
I_scale = [[0, "#3a6fc2"], [.125, "#6f93cc"], [.25, "#9db7d8"], [.375, "#bccede"], [.5, "#e0dccf"],
           [.625, "#f9d9a3"], [.75, "#fdb45c"], [.875, "#fd8b1f"], [1, "#ff5500"]]
xa, ya = axes(1447, 1846.7, 1027.7, 1353.3,
              dict(range=[-.5, 23.5], tickmode="array", tickvals=list(range(24)), ticktext=I_cols, tickangle=-90,
                   tickfont=tfont(6.5, color="#222222"), ticks=""),
              dict(range=[9.5, -.5], tickmode="array", tickvals=list(range(10)), ticktext=I_rows, side="right",
                   tickfont=tfont(8), ticks=""))
fig.add_trace(go.Heatmap(z=I_z, x=list(range(24)), y=list(range(10)), zmin=-4, zmax=4, colorscale=I_scale, showscale=False,
                         xaxis=xa, yaxis=ya))
xa, ya = axes(1447, 1846.7, 1016, 1024.7, dict(range=[-.5, 23.5], visible=False), dict(range=[-.5, .5], visible=False))
fig.add_trace(go.Heatmap(z=[I_groups], zmin=-.5, zmax=3.5, colorscale=stepscale(["#ff0000", "#0000ff", "#4682b4", "#ffa500"]),
                         showscale=False, xaxis=xa, yaxis=ya))
T(1646, 1004, "Treatment", 7, bold=True)
xa, ya = axes(1447, 1514, 1380, 1388, dict(range=[-.5, 16.5], visible=False), dict(range=[-.5, .5], visible=False))
fig.add_trace(go.Heatmap(z=[I_legend_vals], zmin=-4, zmax=4, colorscale=I_scale, showscale=False, xaxis=xa, yaxis=ya))
for s, x in zip(["4.0", "2.0", "-2.0", "-3.0", "-4.0"], [1447, 1464, 1481, 1497, 1515]):
    T(x, 1393, s, 6, bold=True)
for c, nm, x0 in zip(["#ff0000", "#ffa500", "#4682b4", "#0000ff"], ["Con", "NaB", "NaPD", "PD"], [1523.7, 1540, 1556.6, 1573]):
    rect(x0, 1380, x0 + 16.5, 1388, c)
    T(x0 + 8, 1393, nm, 5.5, bold=True)
xs, ys = tree_lines(I_tree, lambda r: 1027.7 + (r + .5) * 32.56, 1447, 44, True)
fig.add_trace(go.Scatter(x=xs, y=ys, mode="lines", line=dict(color="#b0b0b0", width=1.2), xaxis=page_x, yaxis=page_y))

# ---------------- J ----------------
rect(153.3, 1635.7, 416, 2010, "#e4e4e4", layer="below")
xa, ya = axes(153.3, 416, 1635.7, 2010,
              dict(range=[-.098, 2.1], tickmode="array", tickvals=[0, .5, 1, 1.5, 2], ticktext=["0.0", "0.5", "1.0", "1.5", "2.0"],
                   tickfont=dict(family=SANS, size=7, color="#777777"), ticks="outside", ticklen=2, tickcolor="#888888"),
              dict(range=[6.6, -.595], tickmode="array", tickvals=list(range(7)), ticktext=J_labels,
                   tickfont=tfont(9.5), ticks="outside", ticklen=3, tickcolor="#555555"))
fig.add_trace(go.Bar(x=J_values, y=list(range(7)), orientation="h", width=.91, marker=dict(color="#007f7f", line=dict(color="#ffffff", width=.5)),
                     text=[str(v) for v in J_values], textposition="inside", insidetextanchor="end", textangle=0,
                     constraintext="none", textfont=dict(family=SANS, size=12, color="#c8f0ee"), xaxis=xa, yaxis=ya))
T(284, 2029, "Number of metabolites", 10, SANS, color="#222222")
T(23.3, 1823, "classification", 10, SANS, color="#222222", angle=-90)

# ---------------- K ----------------
xa, ya = axes(710.2, 995.6, 1680, 1953.3,
              dict(range=[0, 60], tickmode="array", tickvals=[0, 10, 20, 30, 40, 50, 60], ticktext=[f"{v}%" for v in range(0, 61, 10)],
                   tickfont=tfont(9.5, SANS), showline=True, linecolor="#aaaaaa", linewidth=1, ticks="inside", ticklen=4, tickcolor="#666666"),
              dict(range=[1.75, -.385], tickmode="array", tickvals=[0, 1], ticktext=K_labels, tickfont=tfont(10, SANS), ticks="",
                   ticklabelstandoff=5))
fig.add_trace(go.Bar(x=K_values, y=[0, 1], orientation="h", width=.5, marker=dict(color=["#3a4b90", "#ef0000"], line=dict(color="#111111", width=1.4)),
                     xaxis=xa, yaxis=ya))
for s, c, (y0, y1) in zip(K_classes, ["#1f3a8a", "#d81010"], [(1697.7, 1761), (1825.7, 1889)]):
    seg(1002.7, y0, 1002.7, y1, c, 1.4)
    T(1010, (y0 + y1) / 2, s, 10, SANS, True, anchor="left", color="#222222")

# ---------------- L ----------------
assert all(len(r) == 34 for r in L_z) and len(L_z) == 29
xa, ya = axes(1284.6, 1665.4, 1577.3, 1930,
              dict(range=[-.5, 33.5], tickmode="array", tickvals=list(range(34)), ticktext=L_cols, tickangle=90,
                   tickfont=dict(family=SANS, size=7.5, color="#111111"), ticks=""),
              dict(range=[28.5, -.5], tickmode="array", tickvals=list(range(29)), ticktext=L_rows, side="right",
                   tickfont=dict(family=SANS, size=8, color="#222222"), ticks=""))
fig.add_trace(go.Heatmap(z=L_z, x=list(range(34)), y=list(range(29)), zmin=-1, zmax=1,
                         colorscale=[[0, "#00ff00"], [.5, "#ffffff"], [1, "#ff0000"]], xaxis=xa, yaxis=ya,
                         colorbar=dict(x=PX(1839), xanchor="left", y=PY(1576.7), yanchor="top", lenmode="pixels", len=113,
                                       thicknessmode="pixels", thickness=8.6, outlinewidth=0, tickmode="array", xpad=0, ypad=0,
                                       tickvals=[-1, -.5, 0, .5, 1], ticktext=["-1", "-0.5", "0", "0.5", "1"], ticks="",
                                       tickfont=dict(family=SANS, size=7, color="#333333"))))
sx, sy = [], []
for r, row in enumerate(L_z):
    for c, v in enumerate(row):
        if abs(v) >= .75:
            sx.append(c)
            sy.append(r)
fig.add_trace(go.Scatter(x=sx, y=sy, mode="text", text=["**"] * len(sx), textfont=dict(size=6, color="#333333", family=SANS),
                         xaxis=xa, yaxis=ya))
xa, ya = axes(1274.9, 1282.8, 1577.3, 1930,
              dict(range=[-.5, .5], tickmode="array", tickvals=[0], ticktext=["Phylum"], tickangle=90,
                   tickfont=tfont(8, SANS), ticks=""),
              dict(range=[28.5, -.5], visible=False))
fig.add_trace(go.Heatmap(z=[[c] for c in L_phylum_codes], x=[0], y=list(range(29)), zmin=-.5, zmax=7.5,
                         colorscale=stepscale(L_phyla_colors), showscale=False, xaxis=xa, yaxis=ya))
xs, ys = tree_lines(L_row_tree, lambda r: 1577.3 + (r + .5) * 12.17, 1274, 33, True)
fig.add_trace(go.Scatter(x=xs, y=ys, mode="lines", line=dict(color="#222222", width=1), xaxis=page_x, yaxis=page_y))
xs, ys = tree_lines(L_col_tree, lambda c: 1284.6 + (c + .5) * 11.2, 1577, 30, False)
fig.add_trace(go.Scatter(x=xs, y=ys, mode="lines", line=dict(color="#333333", width=1), xaxis=page_x, yaxis=page_y))
T(1558, 1504, "NaPD_Con", 21, bold=True, color="#222222")
T(1881, 1580, "Phylum", 7.5, SANS, True, anchor="left")
for i, (nm, c) in enumerate(zip(L_phyla, L_phyla_colors)):
    y = 1591.7 + i * 11.67
    rect(1867, y - 5.8, 1878, y + 5.8, c)
    T(1880.5, y, nm, 7.5, SANS, anchor="left", color="#222222")

# ---------------- page ----------------
fig.update_traces(showlegend=False, hoverinfo="skip")
fig.update_layout(width=W - 2 * BODY, height=H - 2 * BODY, margin=dict(l=0, r=0, t=0, b=0, pad=0, autoexpand=False),
                  paper_bgcolor="#ffffff", plot_bgcolor="rgba(0,0,0,0)", barmode="stack", showlegend=False, hovermode=False,
                  font=dict(family=SANS), shapes=shapes, annotations=annos, **layout)
fig.write_html("out.html", config=dict(displayModeBar=False), post_script="document.body.style.margin='0';")
